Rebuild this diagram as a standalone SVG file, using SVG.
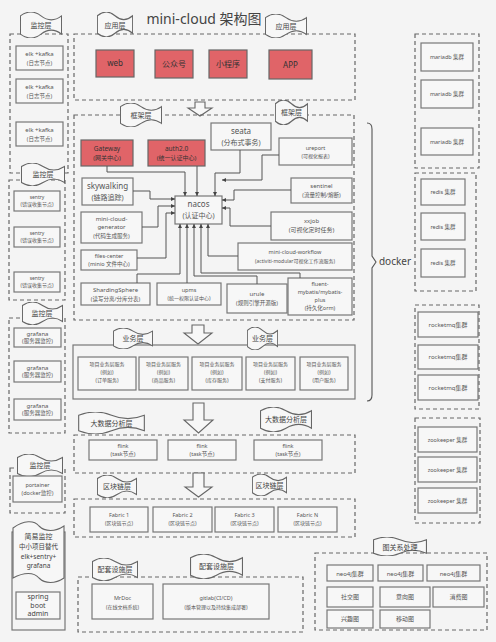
<svg xmlns="http://www.w3.org/2000/svg" width="496" height="642" viewBox="0 0 496 642">
<defs>
<symbol id="tape" viewBox="0 0 100 40" preserveAspectRatio="none">
<path d="M1,6 C18,-2 34,-2 50,6 C66,14 83,14 99,6 L99,34 C83,26 66,26 50,34 C34,42 18,42 1,34 Z" fill="#f7f7f7" stroke="#666" stroke-width="1.1" vector-effect="non-scaling-stroke"/>
</symbol>
<marker id="ah" viewBox="0 0 6 6" refX="6" refY="3" markerWidth="4" markerHeight="4" markerUnits="userSpaceOnUse" orient="auto">
<path d="M0,0 L6,3 L0,6 Z" fill="#444"/>
</marker>
</defs>
<style>
text{font-family:"Noto Sans","Noto Sans CJK SC",sans-serif;fill:#555;text-anchor:middle}
.dash{fill:none;stroke:#666;stroke-width:1.2;stroke-dasharray:4 3}
.box{fill:#f7f7f7;stroke:#777;stroke-width:1.2}
.red{fill:#e06468;stroke:#666;stroke-width:1.2}
.solid{fill:none;stroke:#777;stroke-width:1.2}
.arr{fill:#f7f7f7;stroke:#666;stroke-width:1.1}
.c{fill:none;stroke:#555;stroke-width:1;marker-end:url(#ah)}
.s5{font-size:5px}.s55{font-size:5.5px}.s6{font-size:6px}.s65{font-size:6.5px}.s7{font-size:7px}.s8{font-size:8px}
.lbl{font-size:7px;fill:#444}
</style>
<rect width="496" height="642" fill="#f4f4f4"/>
<text x="204" y="24" style="font-size:14px;fill:#444">mini-cloud 架构图</text>

<!-- left monitoring column -->
<g id="mon1">
<rect class="dash" x="10" y="34" width="58" height="139"/>
<use href="#tape" x="20" y="12" width="42" height="26"/>
<text class="lbl" x="41" y="28">监控层</text>
<rect class="box" x="16" y="46" width="47" height="24"/><text class="s6" x="39.5" y="56">elk +kafka</text><text class="s55" x="39.5" y="65">(日志节点)</text>
<rect class="box" x="16" y="79" width="47" height="24"/><text class="s6" x="39.5" y="89">elk +kafka</text><text class="s55" x="39.5" y="98">(日志节点)</text>
<rect class="box" x="16" y="122" width="47" height="24"/><text class="s6" x="39.5" y="132">elk +kafka</text><text class="s55" x="39.5" y="141">(日志节点)</text>
</g>
<g id="mon2">
<rect class="dash" x="9" y="180" width="56" height="120"/>
<use href="#tape" x="21" y="163" width="44" height="23"/>
<text class="lbl" x="43" y="177">监控层</text>
<rect class="box" x="14" y="191" width="46" height="20"/><text class="s5" x="37" y="199">sentry</text><text class="s5" x="37" y="206">(错误收集节点)</text>
<rect class="box" x="14" y="227" width="46" height="20"/><text class="s5" x="37" y="235">sentry</text><text class="s5" x="37" y="242">(错误收集节点)</text>
<rect class="box" x="14" y="272" width="46" height="20"/><text class="s5" x="37" y="280">sentry</text><text class="s5" x="37" y="287">(错误收集节点)</text>
</g>
<g id="mon3">
<rect class="dash" x="9" y="318" width="56" height="115"/>
<use href="#tape" x="22" y="302" width="41" height="23"/>
<text class="lbl" x="42" y="316">监控层</text>
<rect class="box" x="14" y="328" width="47" height="19"/><text class="s6" x="37.5" y="336">grafana</text><text class="s55" x="37.5" y="343">(服务器监控)</text>
<rect class="box" x="14" y="361" width="47" height="21"/><text class="s6" x="37.5" y="370">grafana</text><text class="s55" x="37.5" y="377">(服务器监控)</text>
<rect class="box" x="14" y="399" width="47" height="21"/><text class="s6" x="37.5" y="408">grafana</text><text class="s55" x="37.5" y="415">(服务器监控)</text>
</g>
<g id="mon4">
<rect class="dash" x="10" y="468" width="55" height="45"/>
<use href="#tape" x="17" y="454" width="46" height="23"/>
<text class="lbl" x="40" y="468">监控层</text>
<rect class="box" x="13" y="476" width="49" height="26"/><text class="s55" x="37.5" y="487">portainer</text><text class="s55" x="37.5" y="495">(docker监控)</text>
</g>
<g id="simple">
<rect class="solid" x="12" y="532" width="53" height="98"/>
<path d="M13,528 C24,520 34,520 39,526 C45,532 55,532 64,526 L64,578 C55,584 45,584 39,578 C34,572 24,572 13,578 Z" fill="#f7f7f7" stroke="#666" stroke-width="1.1"/>
<text class="s7" x="38.5" y="539" style="fill:#444">简易监控</text>
<text class="s65" x="38.5" y="549" style="fill:#444">中小项目替代</text>
<text class="s65" x="38.5" y="559" style="fill:#444">elk+sentry+</text>
<text class="s65" x="38.5" y="568" style="fill:#444">grafana</text>
<rect class="box" x="16" y="592" width="44" height="27"/>
<text x="38" y="599" style="font-size:7px;fill:#444">spring</text>
<text x="38" y="607.5" style="font-size:7px;fill:#444">boot</text>
<text x="38" y="616" style="font-size:7px;fill:#444">admin</text>
</g>

<!-- application layer -->
<g id="app">
<rect class="dash" x="74" y="34" width="281" height="66"/>
<use href="#tape" x="97" y="12" width="36" height="25"/>
<text class="lbl" x="115" y="28">应用层</text>
<use href="#tape" x="265" y="14" width="42" height="24"/>
<text class="lbl" x="286" y="29">应用层</text>
<rect class="red" x="96" y="50" width="38" height="27"/><text class="s8" x="115" y="66" style="fill:#333">web</text>
<rect class="red" x="155" y="50" width="38" height="28"/><text class="s8" x="174" y="67" style="fill:#333">公众号</text>
<rect class="red" x="209" y="50" width="38" height="28"/><text class="s8" x="228" y="67" style="fill:#333">小程序</text>
<rect class="red" x="269" y="50" width="43" height="29"/><text class="s8" x="290.5" y="68" style="fill:#333">APP</text>
</g>
<polygon class="arr" points="195,102 205,102 205,108 212,108 200,116 188,108 195,108"/>

<!-- framework layer -->
<g id="framework">
<rect class="dash" x="74" y="115" width="280" height="205"/>
<use href="#tape" x="120" y="103" width="42" height="24"/>
<text class="lbl" x="141" y="118">框架层</text>
<use href="#tape" x="275" y="100" width="33" height="25"/>
<text class="lbl" x="291.5" y="115">框架层</text>
</g>
<g id="gateway"><rect class="red" x="81" y="140" width="52" height="26"/><text class="s65" x="107" y="151" style="fill:#333">Gateway</text><text class="s6" x="107" y="160" style="fill:#333">(网关中心)</text></g>
<g id="auth"><rect class="red" x="148" y="140" width="57" height="26"/><text class="s65" x="176.5" y="151" style="fill:#333">auth2.0</text><text class="s6" x="176.5" y="160" style="fill:#333">(统一认证中心)</text></g>
<g id="seata"><rect class="box" x="211" y="123" width="60" height="27"/><text class="s8" x="241" y="134">seata</text><text class="s7" x="241" y="145">(分布式事务)</text></g>
<g id="ureport"><rect class="box" x="279" y="138" width="73" height="27"/><text class="s55" x="315.5" y="150">ureport</text><text class="s5" x="315.5" y="158">(可视化报表)</text></g>
<g id="skywalking"><rect class="box" x="82" y="178" width="51" height="27"/><text class="s8" x="107.5" y="189">skywalking</text><text class="s7" x="107.5" y="200">(链路追踪)</text></g>
<g id="generator"><rect class="box" x="81" y="212" width="61" height="31"/><text class="s6" x="111.5" y="221">mini-cloud-</text><text class="s6" x="111.5" y="229">generator</text><text class="s55" x="111.5" y="238">(代码生成服务)</text></g>
<g id="files"><rect class="box" x="81" y="250" width="56" height="20"/><text class="s55" x="109" y="258">files-center</text><text class="s55" x="109" y="266">(minio 文件中心)</text></g>
<g id="sharding"><rect class="box" x="81" y="283" width="69" height="22"/><text class="s6" x="115.5" y="292">ShardingSphere</text><text class="s55" x="115.5" y="301">(读写分离/分库分表)</text></g>
<g id="upms"><rect class="box" x="157" y="283" width="64" height="22"/><text class="s55" x="189" y="292">upms</text><text class="s5" x="189" y="300">(统一权限认证中心)</text></g>
<g id="urule"><rect class="box" x="227" y="284" width="60" height="29"/><text class="s6" x="257" y="296">urule</text><text class="s55" x="257" y="305">(规则引擎开源版)</text></g>
<g id="fluent"><rect class="box" x="288" y="278" width="64" height="37"/><text class="s55" x="320" y="286">fluent-</text><text class="s55" x="320" y="294">mybatis/mybatis-</text><text class="s55" x="320" y="302">plus</text><text class="s55" x="320" y="310">(持久化orm)</text></g>
<g id="sentinel"><rect class="box" x="291" y="178" width="61" height="25"/><text class="s6" x="321.5" y="188">sentinel</text><text class="s55" x="321.5" y="197">(流量控制/熔断)</text></g>
<g id="xxjob"><rect class="box" x="271" y="212" width="81" height="28"/><text class="s6" x="311.5" y="223">xxjob</text><text class="s6" x="311.5" y="232">(可视化定时任务)</text></g>
<g id="workflow"><rect class="box" x="238" y="243" width="114" height="27"/><text class="s55" x="295" y="254">mini-cloud-workflow</text><text class="s5" x="295" y="263">(activiti-modular可视化工作流服务)</text></g>
<g id="nacos"><rect class="box" x="175" y="196" width="47" height="28"/><text class="s8" x="198.5" y="207">nacos</text><text class="s7" x="198.5" y="218">(认证中心)</text></g>

<g id="connectors">
<path class="c" d="M107,166 V172 H185 V196"/>
<path class="c" d="M197,166 V196"/>
<path class="c" d="M240,150 V173 H215 V196"/>
<path class="c" d="M279,155 H262 V180 H222"/>
<path class="c" d="M133,191 H150 V199 H175"/>
<path class="c" d="M142,227 H158 V206 H175"/>
<path class="c" d="M137,258 H166 V213 H175"/>
<path class="c" d="M137,283 V274 H180 V224"/>
<path class="c" d="M187,283 V224"/>
<path class="c" d="M257,284 V276 H194 V224"/>
<path class="c" d="M300,278 V273 H201 V224"/>
<path class="c" d="M238,256 H208 V224"/>
<path class="c" d="M291,190 H234 V200 H222"/>
<path class="c" d="M271,226 H230 V208 H222"/>
</g>

<!-- docker brace -->
<g id="docker">
<path d="M367,123 Q372,123 372,129 V256 L376,262 L372,268 V395 Q372,401 367,401" fill="none" stroke="#555" stroke-width="1.1"/>
<text x="395" y="265" style="font-size:10px;fill:#444">docker</text>
</g>

<!-- right column -->
<g id="mariadb">
<rect class="dash" x="415" y="34" width="64" height="134"/>
<rect class="box" x="421" y="43" width="52" height="28"/><text class="s55" x="447" y="59">mariadb 集群</text>
<rect class="box" x="421" y="80" width="52" height="28"/><text class="s55" x="447" y="96">mariadb 集群</text>
<rect class="box" x="421" y="128" width="52" height="27"/><text class="s55" x="447" y="144">mariadb 集群</text>
</g>
<g id="redis">
<rect class="dash" x="415" y="173" width="61" height="118"/>
<rect class="box" x="421" y="179" width="44" height="26"/><text class="s55" x="443" y="194">redis 集群</text>
<rect class="box" x="421" y="213" width="44" height="27"/><text class="s55" x="443" y="229">redis 集群</text>
<rect class="box" x="421" y="249" width="44" height="28"/><text class="s55" x="443" y="265">redis 集群</text>
</g>
<g id="rocketmq">
<rect class="dash" x="415" y="305" width="64" height="104"/>
<rect class="box" x="418" y="312" width="60" height="25"/><text class="s6" x="448" y="327">rocketmq集群</text>
<rect class="box" x="418" y="345" width="60" height="24"/><text class="s6" x="448" y="359">rocketmq集群</text>
<rect class="box" x="418" y="375" width="60" height="25"/><text class="s6" x="448" y="390">rocketmq集群</text>
</g>
<g id="zookeeper">
<rect class="dash" x="415" y="418" width="65" height="105"/>
<rect class="box" x="418" y="427" width="59" height="25"/><text class="s55" x="447.5" y="442">zookeeper 集群</text>
<rect class="box" x="418" y="457" width="59" height="25"/><text class="s55" x="447.5" y="472">zookeeper 集群</text>
<rect class="box" x="418" y="488" width="59" height="25"/><text class="s55" x="447.5" y="503">zookeeper 集群</text>
</g>

<!-- business layer -->
<polygon class="arr" points="192,325 204,325 204,333 212,333 198,344 184,333 192,333"/>
<g id="business">
<rect class="solid" x="73" y="345" width="282" height="54"/>
<use href="#tape" x="113" y="328" width="40" height="21"/>
<text class="lbl" x="133" y="341">业务层</text>
<use href="#tape" x="247" y="327" width="31" height="23"/>
<text class="lbl" x="262.5" y="341">业务层</text>
<rect class="box" x="78" y="357" width="58" height="33"/><text class="s5" x="107" y="366">项目业务层服务</text><text class="s5" x="107" y="374">(例如)</text><text class="s5" x="107" y="382">(订单服务)</text>
<rect class="box" x="139" y="357" width="49" height="33"/><text class="s5" x="163.5" y="366">项目业务层服务</text><text class="s5" x="163.5" y="374">(例如)</text><text class="s5" x="163.5" y="382">(商品服务)</text>
<rect class="box" x="192" y="357" width="50" height="33"/><text class="s5" x="217" y="366">项目业务层服务</text><text class="s5" x="217" y="374">(例如)</text><text class="s5" x="217" y="382">(库存服务)</text>
<rect class="box" x="246" y="357" width="49" height="33"/><text class="s5" x="270.5" y="366">项目业务层服务</text><text class="s5" x="270.5" y="374">(例如)</text><text class="s5" x="270.5" y="382">(支付服务)</text>
<rect class="box" x="300" y="357" width="48" height="33"/><text class="s5" x="324" y="366">项目业务层服务</text><text class="s5" x="324" y="374">(例如)</text><text class="s5" x="324" y="382">(用户服务)</text>
</g>

<!-- big data -->
<polygon class="arr" points="193,403 204,403 204,420 213,420 198.5,433 184,420 193,420"/>
<g id="bigdata">
<rect class="dash" x="74" y="435" width="281" height="38"/>
<use href="#tape" x="78" y="412" width="67" height="22"/>
<text class="lbl" x="111.5" y="426">大数据分析层</text>
<use href="#tape" x="260" y="407" width="52" height="25"/>
<text class="lbl" x="286" y="422">大数据分析层</text>
<rect class="box" x="89" y="440" width="68" height="20"/><text class="s55" x="123" y="448">flink</text><text class="s55" x="123" y="456">(task节点)</text>
<rect class="box" x="168" y="440" width="68" height="20"/><text class="s55" x="202" y="448">flink</text><text class="s55" x="202" y="456">(task节点)</text>
<rect class="box" x="254" y="440" width="68" height="20"/><text class="s55" x="288" y="448">flink</text><text class="s55" x="288" y="456">(task节点)</text>
</g>

<!-- blockchain -->
<polygon class="arr" points="193,473 204,473 204,487 212,487 198.5,497 185,487 193,487"/>
<g id="blockchain">
<rect class="dash" x="74" y="499" width="281" height="38"/>
<use href="#tape" x="97" y="475" width="40" height="23"/>
<text class="lbl" x="117" y="489">区块链层</text>
<use href="#tape" x="252" y="474" width="35" height="22"/>
<text class="lbl" x="269.5" y="488">区块链层</text>
<rect class="box" x="90" y="507" width="58" height="25"/><text class="s55" x="119" y="517">Fabric 1</text><text class="s5" x="119" y="525">(区块链节点)</text>
<rect class="box" x="153" y="507" width="59" height="25"/><text class="s55" x="182.5" y="517">Fabric 2</text><text class="s5" x="182.5" y="525">(区块链节点)</text>
<rect class="box" x="215" y="507" width="59" height="25"/><text class="s55" x="244.5" y="517">Fabric 3</text><text class="s5" x="244.5" y="525">(区块链节点)</text>
<rect class="box" x="278" y="507" width="59" height="25"/><text class="s55" x="307.5" y="517">Fabric N</text><text class="s5" x="307.5" y="525">(区块链节点)</text>
</g>

<!-- supporting -->
<g id="support">
<rect class="dash" x="78" y="577" width="225" height="55"/>
<use href="#tape" x="92" y="558" width="46" height="23"/>
<text class="lbl" x="115" y="572">配套设施层</text>
<use href="#tape" x="190" y="554" width="53" height="25"/>
<text class="lbl" x="216.5" y="569">配套设施层</text>
<rect class="box" x="92" y="584" width="61" height="35"/><text class="s55" x="122.5" y="600">MrDoc</text><text class="s5" x="122.5" y="609">(在线文档系统)</text>
<rect class="box" x="163" y="584" width="106" height="35"/><text class="s55" x="216" y="600">gitlab(CI/CD)</text><text class="s5" x="216" y="609">(版本管理以及持续集成部署)</text>
</g>

<!-- graph -->
<g id="graph">
<rect class="dash" x="315" y="553" width="172" height="77"/>
<use href="#tape" x="373" y="537" width="54" height="19"/>
<text class="lbl" x="400" y="550">图关系处理</text>
<rect class="box" x="327" y="565" width="46" height="16"/><text class="s6" x="350" y="575.5">neo4j集群</text>
<rect class="box" x="378" y="565" width="45" height="16"/><text class="s6" x="400.5" y="575.5">neo4j集群</text>
<rect class="box" x="427" y="565" width="53" height="16"/><text class="s6" x="453.5" y="575.5">neo4j集群</text>
<rect class="box" x="327" y="587" width="46" height="20"/><text class="s6" x="350" y="599">社交图</text>
<rect class="box" x="380" y="587" width="50" height="20"/><text class="s6" x="405" y="599">意向图</text>
<rect class="box" x="433" y="587" width="51" height="20"/><text class="s6" x="458.5" y="599">消费图</text>
<rect class="box" x="327" y="610" width="46" height="18"/><text class="s6" x="350" y="621">兴趣图</text>
<rect class="box" x="380" y="610" width="50" height="18"/><text class="s6" x="405" y="621">移动图</text>
</g>
</svg>
